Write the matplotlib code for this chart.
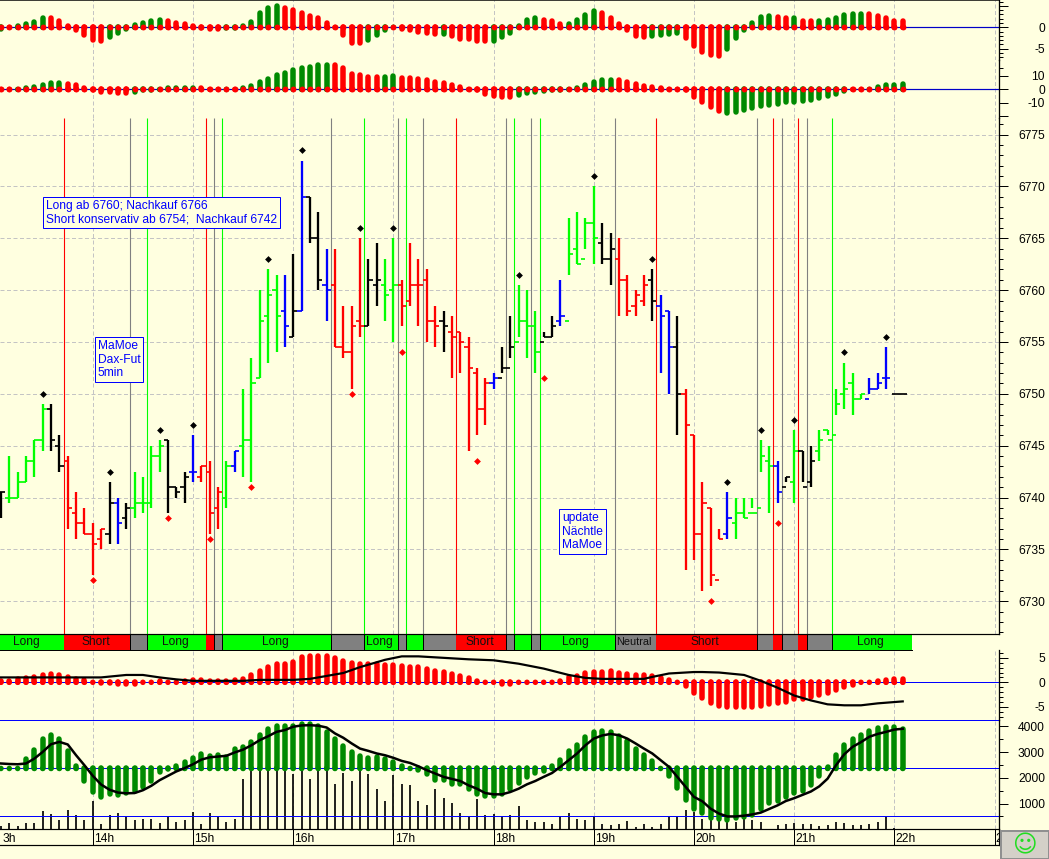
import matplotlib
matplotlib.use('Agg')
import matplotlib.pyplot as plt
from matplotlib.patches import Rectangle
import numpy as np

W, H = 1049, 859
plt.rc('font', family='Liberation Sans', size=8.64)

BG = '#FFFFE0'
RED, LIME, BLUE, GREY = '#FF0000', '#00FF00', '#0000FF', '#808080'
DARKGREEN = '#008A00'
COLORS = {'r': RED, 'g': LIME, 'b': BLUE, 'k': 'black'}


def px(n):
    return n * 0.72


# price bars, one per 5 minutes, first bar is number -11 (14h = bar 0)
opens = [6740.5, 6740, 6740, 6741.5, 6743.5, 6745.5, 6748.5, 6745, 6743.5, 6738.5, 6737.5, 6736.5,
         6736, 6736.5, 6739.5, 6738, 6739, 6739.5, 6739.5, 6744, 6745.5, 6741, 6741, 6742.5,
         6742, 6742.5, 6739, 6740, 6743, 6745, 6745.5, 6751.5, 6757.5, 6760, 6758, 6755.5,
         6758, 6769, 6765, 6760.5, 6760.5, 6754.5, 6754, 6757, 6756.5, 6760.5, 6760.5, 6760,
         6760.5, 6759, 6760.5, 6761, 6757, 6757, 6756, 6756, 6754.5, 6752, 6748.5, 6751,
         6751.5, 6752.5, 6755, 6757, 6756.5, 6755, 6755.5, 6757, 6757, 6764, 6763, 6766.5,
         6764.5, 6763, 6763, 6761, 6758.5, 6759, 6761, 6758.5, 6758, 6754.5, 6750, 6746,
         6736.5, 6739, 6732, 6736.5, 6737.5, 6738.5, 6738.5, 6739, 6743.5, 6743, 6741, 6741.5,
         6744.5, 6741.5, 6744.5, 6746.5, 6746, 6750, 6751, 6749.5, 6749.5, 6750.5, 6751.5]
highs = [6740.5, 6744, 6742.5, 6744, 6745.5, 6749, 6749, 6746, 6744, 6740.5, 6739, 6737.5,
         6737, 6741.5, 6740, 6739.5, 6742.5, 6742, 6745, 6745.5, 6745.5, 6741, 6742.5, 6746,
         6743, 6743.5, 6741, 6743.5, 6744.5, 6750.5, 6753.5, 6760, 6762, 6761.5, 6761.5, 6763.5,
         6772.5, 6769, 6767.5, 6764, 6764, 6758.5, 6758.5, 6765, 6763, 6764.5, 6763, 6765,
         6761, 6764.5, 6763, 6762, 6758.5, 6758, 6757.5, 6756, 6755.5, 6752.5, 6751.5, 6752,
         6754.5, 6757.5, 6760.5, 6760, 6758, 6756, 6757.5, 6761, 6767, 6767.5, 6767, 6770,
         6766.5, 6765.5, 6765, 6761.5, 6760, 6761.5, 6762, 6759.5, 6758, 6757.5, 6750.5, 6746,
         6741.5, 6739, 6737, 6740.5, 6740, 6740, 6740, 6745.5, 6745, 6743.5, 6742, 6746.5,
         6744.5, 6745, 6746.5, 6746.5, 6750.5, 6753, 6752, 6750, 6751.5, 6752, 6754.5]
lows = [6738, 6739.5, 6740, 6741.5, 6742, 6744.5, 6744.5, 6742.5, 6737, 6736, 6736.5, 6732.5,
        6735, 6735.5, 6735.5, 6737, 6738, 6738.5, 6739, 6742.5, 6738.5, 6740, 6739.5, 6741.5,
        6741.5, 6736.5, 6737, 6739, 6742.5, 6742, 6741.5, 6751.5, 6753, 6754, 6754.5, 6755.5,
        6758, 6764.5, 6760, 6757, 6754.5, 6753.5, 6750.5, 6755.5, 6756.5, 6758.5, 6757, 6755,
        6756.5, 6758.5, 6756.5, 6755, 6754.5, 6754, 6751.5, 6752, 6744.5, 6746, 6747, 6750.5,
        6752, 6753.5, 6755.5, 6753.5, 6752, 6755.5, 6755.5, 6756.5, 6761.5, 6762.5, 6764, 6762.5,
        6762.5, 6760.5, 6757.5, 6757.5, 6757.5, 6758.5, 6757, 6752, 6750, 6746, 6733, 6734,
        6731, 6731.5, 6736, 6736, 6736, 6738, 6739, 6742.5, 6738.5, 6739.5, 6741.5, 6739.5,
        6741.5, 6741, 6743.5, 6746, 6748, 6748.5, 6748, 6749.5, 6750, 6750.5, 6750.5]
closes = [6740.5, 6740, 6741.5, 6743.5, 6745.5, 6748.5, 6745.5, 6743, 6739, 6737.5, 6736.5, 6735.5,
          6737, 6739.5, 6737.5, 6739, 6739.5, 6739.5, 6744, 6745, 6741, 6740.5, 6742, 6742.5,
          6743, 6738.5, 6740.5, 6743, 6744.5, 6745.5, 6751, 6757, 6759.5, 6757.5, 6756.5, 6758,
          6769, 6765, 6761, 6760, 6754.5, 6754, 6756.5, 6756.5, 6761, 6761, 6759.5, 6760.5,
          6758.5, 6760.5, 6760.5, 6757, 6756.5, 6756.5, 6755.5, 6755, 6752.5, 6748.5, 6751, 6751.5,
          6752.5, 6754.5, 6757, 6756.5, 6754, 6755.5, 6756.5, 6757.5, 6763.5, 6762.5, 6766.5, 6765,
          6763, 6764, 6761, 6758, 6759.5, 6760.5, 6759, 6757.5, 6754.5, 6750, 6747, 6736.5,
          6739.5, 6732.5, 6736, 6738, 6738.5, 6738, 6738.5, 6744, 6743, 6740.5, 6742, 6744.5,
          6741, 6743.5, 6745.5, 6745.5, 6749, 6750.5, 6749.5, 6750, 6750.5, 6751, 6751.5]
bar_colors = ('k' 'ggggg' 'kk' 'rrrrr' 'kbk' 'gggg' 'kkk' 'b' 'rrr' 'g' 'b' 'ggggg' 'b' 'k' 'b' 'kk' 'b'
              'rrrr' 'kk' 'gg' 'rrrrr' 'k' 'rrrrr' 'b' 'kk' 'ggg' 'kk' 'b' 'gggg' 'kk' 'rrrr' 'k' 'bb'
              'k' 'rrrrr' 'b' 'ggggg' 'b' 'k' 'g' 'kk' 'gggggg' 'bbb')
last_price = 6750

top_marks_k = [-6, 2, 8, 12, 21, 25, 32, 36, 51, 60, 67, 76, 80, 84, 90, 95]
top_marks_p = [6750, 6742.5, 6746.5, 6747, 6763, 6773.5, 6766, 6766, 6761.5, 6771, 6763, 6741.5,
               6746.5, 6747.5, 6754, 6755.5]
low_marks_k = [0, 9, 14, 19, 31, 37, 46, 54, 74, 82]
low_marks_p = [6732, 6738, 6736, 6741, 6750, 6754, 6743.5, 6751.5, 6730, 6737.5]

# signal strip
strip_edges = [-12, -3.5, 4.5, 6.5, 13.5, 14.5, 15.5, 28.5, 32.5, 36.5, 37.5, 39.5, 43.5, 49.5, 50.5,
               52.5, 53.5, 62.5, 67.5, 79.5, 81.5, 82.5, 84.5, 85.5, 88.5, 98.1]
strip_state = 'lsnlsnlnlnlnsnlnlnsnsnsnl'
strip_text = {0: 'Long', 1: 'Short', 3: 'Long', 6: 'Long', 8: 'Long', 12: 'Short', 16: 'Long',
              17: 'Neutral', 18: 'Short', 24: 'Long'}

# oscillator panels, bars -11 .. 97
osc1 = [-1.0, 0.1, 0.9, 1.3, 1.9, 2.7, 2.7, 2.2, 1.0, -1.2, -2.4, -3.6, -3.8, -3.0, -2.0, -1.0, 1.2, 1.7,
        2.0, 2.3, 2.2, 1.7, 1.3, 1.0, -0.8, -1.0, -1.0, -0.8, -0.8, 0.9, 1.9, 4.1, 5.2, 5.7, 5.2, 4.7,
        4.1, 3.4, 2.7, 1.7, 0.8, -2.4, -4.2, -4.2, -3.6, -2.4, -1.2, 0.8, -1.0, -1.2, -1.7, -2.0, -2.2, -2.2,
        -2.7, -3.4, -3.4, -3.8, -3.8, -3.8, -3.0, -2.0, 1.0, 2.4, 2.9, 2.4, 2.0, 1.5, 1.5, 2.4, 3.6, 4.5,
        4.1, 2.9, 1.5, -1.2, -2.7, -3.0, -2.7, -2.4, -2.2, -2.0, -3.1, -5.0, -6.5, -7.2, -7.4, -5.8, -3.1, -1.2,
        1.7, 3.1, 3.3, 3.1, 2.7, 2.9, 2.2, 2.0, 2.0, 2.4, 2.7, 3.6, 3.8, 3.8, 3.8, 3.4, 2.9, 2.2, 2.0]
osc1_colors = ('grggggrrrrrrrggggggg' 'rrrrrrr' 'ggggggg' 'rrrrrrrrrr' 'gggg' 'rrrrr' 'g' 'rrrrr' 'gggggg'
               'rrr' 'gggg' 'rrrrrr' 'gggg' 'rrrrr' 'gggggg' 'rr' 'g' 'rr' 'gggggg' 'rrrrr')
osc2 = [0, 0, 2.5, 3, 4, 5.5, 6.5, 7, 6, 5.5, 3, -2.5, -4, -4, -5, -5, -4, -2.5,
        -2.5, 2.5, 3, 3, 3, 3, 3, 2, 2, 2.5, 2.5, 3, 4.7, 7.7, 10, 13, 14.5, 16.7,
        18, 19, 20, 20, 20, 18, 13.7, 13, 11.5, 11.5, 11.5, 12, 10.7, 10.7, 10, 9, 7.7, 7,
        5.5, 4, 1.5, -2.5, -5.5, -7, -7.7, -7.7, -6, -4.7, -4, -3, -2.5, -2.5, 1, 3, 5.5, 7.7,
        9, 9, 9, 7.7, 6, 4.7, 4, 3, 2.5, 1.7, -2.5, -7.7, -11.7, -15, -18, -19.7, -19, -17.5,
        -16, -14.5, -13.7, -13, -11.5, -11.5, -10.7, -10, -8.5, -7, -5.5, -3, -2, 0.5, 2.7, 4.2, 5, 5.5, 6]
osc2_colors = ('rr' 'gggggg' 'rrrrrrrr' 'gggggggg' 'rrr' 'g' 'r' 'ggggggggggg' 'rrrrrr' 'gg'
               'rrrrrrrrrrrrrr' 'gggggggggggg' 'rrrrrrrrrrrrr' 'ggggggggggggggg' 'rr' 'ggggg')
osc3 = [0.8, 0.9, 1.3, 1.5, 1.7, 2.1, 2.3, 2.1, 1.7, 1.3, 1.0, 0.5, -0.7, -0.7, -0.9, -1.0, -1.0, -0.4,
        0.7, 0.9, 0.7, 0.7, 0.8, 1.0, 1.0, 0.8, 0.8, 0.8, 1.0, 1.2, 2.0, 2.8, 3.7, 4.3, 4.4, 4.7,
        5.7, 6.0, 6.0, 5.9, 5.5, 4.9, 4.5, 4.3, 4.3, 4.3, 4.1, 4.1, 3.9, 3.7, 3.7, 3.3, 2.9, 2.7,
        2.3, 1.8, 1.5, 0.9, 0.4, -0.6, -0.9, -0.9, -0.4, 0.6, 0.5, 0.5, 0.6, 0.9, 1.7, 1.9, 2.5, 2.7,
        2.7, 2.8, 2.5, 2.2, 2.1, 2.1, 1.9, 1.4, 1.0, -0.5, -1.4, -2.7, -3.7, -4.7, -5.3, -5.7, -5.7, -5.7,
        -5.7, -5.3, -4.9, -4.7, -4.5, -3.9, -3.9, -3.5, -3.1, -2.7, -2.1, -1.5, -1.1, -0.6, -0.4, 0.9, 1.1, 1.3, 1.3]
osc3_line_k = [-11, 1, 4, 6, 8, 10, 12, 14, 18, 20, 24, 26, 28, 30, 31, 32, 33, 35, 37, 39, 42, 45, 48, 51,
               54, 57, 59, 61, 64, 66, 67, 69, 72, 73, 75, 78, 80, 82, 84, 86, 88, 90, 92, 94, 97]
osc3_line = [1.0, 1.0, 1.5, 1.5, 1.0, 0.6, 0.3, 0.3, 0.3, 0.5, 0.5, 0.7, 1.3, 1.9, 2.5, 3.1, 3.6, 4.6, 5.3,
             5.3, 5.0, 4.7, 4.5, 3.8, 2.8, 1.5, 0.9, 0.7, 0.7, 0.7, 1.1, 1.8, 2.1, 2.1, 2.0, 1.5, 0.3, -1.1,
             -2.7, -3.7, -4.5, -4.7, -4.7, -4.3, -3.9]

osc4 = [2260, 2270, 2270, 2840, 3180, 3620, 3770, 3620, 3140, 2560, 1780, 1340, 1150, 1260, 1230, 1320, 1390, 1520,
        1790, 2140, 2230, 2580, 2710, 2880, 3030, 2950, 3000, 2920, 3220, 3310, 3490, 3780, 4010, 4120, 4120, 4140,
        4210, 4210, 4120, 3910, 3620, 3340, 3100, 2950, 2880, 2920, 2840, 2710, 2580, 2450, 2190, 2040, 1800, 1800,
        1670, 1650, 1450, 1260, 1190, 1170, 1260, 1450, 1710, 1910, 2080, 2170, 2560, 2820, 3160, 3390, 3700, 3910,
        3940, 3900, 3730, 3530, 3230, 3000, 2750, 2470, 1970, 1490, 1020, 690, 530, 350, 300, 270, 350, 390,
        450, 690, 910, 1000, 1150, 1300, 1390, 1610, 1950, 2530, 3000, 3390, 3620, 3780, 3940, 4050, 4090, 4070, 4010]
osc4_line = [2560, 2540, 2530, 2560, 2750, 3010, 3310, 3400, 3300, 2880, 2490, 2080, 1740, 1540, 1430, 1400, 1410, 1520,
             1690, 1910, 2080, 2250, 2380, 2530, 2710, 2800, 2830, 2860, 2990, 3100, 3270, 3470, 3620, 3790, 3860, 3990,
             4040, 4050, 4030, 3960, 3730, 3560, 3340, 3140, 3050, 2950, 2880, 2780, 2660, 2580, 2450, 2300, 2170, 2040,
             1960, 1880, 1710, 1580, 1410, 1360, 1360, 1450, 1580, 1750, 1880, 2040, 2190, 2430, 2690, 2950, 3270, 3530,
             3650, 3710, 3660, 3530, 3340, 3140, 2950, 2690, 2430, 2040, 1650, 1260, 1090, 800, 610, 500, 500, 530,
             580, 650, 790, 930, 1100, 1210, 1340, 1470, 1670, 1970, 2490, 2920, 3210, 3390, 3600, 3710, 3790, 3880, 3910]
volume = [110, 260, 110, 260, 260, 700, 610, 350, 760, 570, 350, 1090, 220, 540, 650, 480, 350, 390,
          410, 260, 480, 280, 350, 660, 220, 650, 480, 270, 410, 1950, 2260, 2260, 2260, 2260, 2260, 2140,
          2260, 1950, 2260, 2260, 1780, 2190, 1870, 2260, 2140, 1580, 1090, 2100, 1750, 1710, 1090, 930, 1560, 1230,
          1040, 650, 480, 1170, 540, 580, 480, 540, 890, 350, 280, 280, 190, 480, 650, 410, 370, 480,
          220, 150, 190, 310, 90, 220, 90, 190, 480, 480, 740, 670, 410, 370, 310, 280, 280, 410,
          350, 270, 20, 150, 190, 240, 220, 190, 140, 150, 270, 240, 150, 150, 190, 280, 480, 60]

# the outer labels are cut by the chart edges, only this much of them shows
hour_labels = ['3h', '14h', '15h', '16h', '17h', '18h', '19h', '20h', '21h', '22h', '2']
hour_label_k = [-10.87, 0.15, 12.15, 24.15, 36.15, 48.15, 60.15, 72.15, 84.15, 96.15, 108.15]
hour_bars = [-12, 0, 12, 24, 36, 48, 60, 72, 84, 96, 108]
price_grid = [6730, 6735, 6740, 6745, 6750, 6755, 6760, 6765, 6770, 6775]

note_long = 'Long ab 6760; Nachkauf 6766\nShort konservativ ab 6754;  Nachkauf 6742'
note_name = 'MaMoe\nDax-Fut\n5min'
note_update = 'update\nNächtle\nMaMoe'

osc_k = np.arange(-11, 98)
price_k = np.arange(-11, 96)
volume_k = np.arange(-11, 97)
x_left, x_right = -92.8 / 8.35, (999 - 92.8) / 8.35


def add_panel(y0, y1, ylim):
    ax = fig.add_axes([0, 1 - y1 / H, 999 / W, (y1 - y0) / H])
    ax.set_xlim(x_left, x_right)
    ax.set_ylim(*ylim)
    ax.patch.set_alpha(0)
    for s in ax.spines.values():
        s.set_visible(False)
    ax.spines['right'].set_visible(True)
    ax.spines['right'].set_linewidth(px(1.3))
    ax.set_xticks([])
    ax.yaxis.tick_right()
    ax.vlines(hour_bars, *ylim, color='#C4C4C4', lw=px(1), linestyles=(0, (4, 2.5)), zorder=0)
    return ax


def right_ticks(ax, major, minor, labels):
    ax.set_yticks(major)
    ax.set_yticks(minor, minor=True)
    ax.set_yticklabels([])
    ax.tick_params(which='major', length=px(9), width=px(1), color='black')
    ax.tick_params(which='minor', length=px(3.5), width=px(1), color='black')
    for v in labels:
        ax.annotate(str(v), xy=(1, v), xycoords=ax.get_yaxis_transform(), xytext=(46, -1.5),
                    textcoords='offset pixels', ha='right', va='center', color='black',
                    annotation_clip=False)


def round_bars(ax, x, vals, base, colors, width=5.5):
    # round caps stick out half the width, pull the ends back so the tips land on the value
    y0, y1 = ax.get_ylim()
    per_px = (y1 - y0) / (ax.get_position().height * H)
    vals = np.asarray(vals, dtype=float) - base
    cut = (width / 2) * per_px
    tips = base + np.sign(vals) * np.maximum(np.abs(vals) - cut, 0)
    lc = ax.vlines(x, base, tips, colors=colors, lw=px(width), zorder=3)
    lc.set_capstyle('round')
    # very short segments vanish when snapped, a dot at the root keeps them
    ax.scatter(x, np.full(len(x), base), s=px(width) ** 2, c=colors, lw=0, zorder=3)


fig = plt.figure(figsize=(W / 100, H / 100), dpi=100, facecolor=BG)

# top oscillators
ax1 = add_panel(0, 60, (-7.64, 6.38))
ax1.spines['top'].set_visible(True)
ax1.spines['top'].set_linewidth(px(1.5))
ax1.axhline(0, color='#0000C8', lw=px(1.2), zorder=2)
round_bars(ax1, osc_k, osc1, 0, [RED if c == 'r' else DARKGREEN for c in osc1_colors])
ax1.scatter(osc_k, np.zeros(len(osc_k)), s=18, c=RED, lw=0, zorder=4)
right_ticks(ax1, [-5, 0, 5], [v for v in range(-7, 7) if v % 5], [0, -5])

ax2 = add_panel(60, 118, (-21.3, 21.9))
ax2.axhline(0, color='#0000C8', lw=px(1.2), zorder=2)
round_bars(ax2, osc_k, osc2, 0, [RED if c == 'r' else DARKGREEN for c in osc2_colors])
ax2.scatter(osc_k, np.zeros(len(osc_k)), s=18, c=RED, lw=0, zorder=4)
right_ticks(ax2, [-20, -10, 0, 10], [16], [10, 0, -10])

# price panel
ax = add_panel(118, 634.3, (6726.81, 6776.6))
ax.hlines(price_grid, x_left, x_right, color='#C4C4C4', lw=px(1), linestyles=(0, (4, 2.5)), zorder=0)
signal_x = strip_edges[1:-1]
signal_c = [{'l': LIME, 's': RED, 'n': GREY}[s] for s in strip_state[1:]]
ax.vlines(signal_x, 6726.81, 6776.6, colors=signal_c, lw=px(1.1), zorder=1)

cols = [COLORS[c] for c in bar_colors]
ax.vlines(price_k, lows, highs, colors=cols, lw=px(2.3), zorder=3)
ax.hlines(opens, price_k - 0.5, price_k, colors=cols, lw=px(1.7), zorder=3)
ax.hlines(closes, price_k, price_k + 0.5, colors=cols, lw=px(1.7), zorder=3)
ax.hlines(last_price, 95.75, 97.5, color='black', lw=px(1.7), zorder=3)
ax.scatter(top_marks_k, top_marks_p, marker='D', s=12, c='black', lw=0, zorder=4)
ax.scatter(low_marks_k, low_marks_p, marker='D', s=12, c=RED, lw=0, zorder=4)
right_ticks(ax, price_grid, [v for v in range(6727, 6777) if v % 5], price_grid)

box = dict(boxstyle='square,pad=0.22', fc=BG, ec=BLUE, lw=px(1))
ax.text(-5.63, 6767.5, note_long, color=BLUE, va='center', ha='left', bbox=box, linespacing=1.18, zorder=6)
ax.text(0.6, 6753.3, note_name, color=BLUE, va='center', ha='left', bbox=box, linespacing=1.18, zorder=6)
ax.text(56.2, 6736.7, note_update, color=BLUE, va='center', ha='left', bbox=box, linespacing=1.18, zorder=6)

# Long / Short strip
ax_s = fig.add_axes([0, 1 - 649.5 / H, 999 / W, 15.2 / H])
ax_s.set_xlim(x_left, x_right)
ax_s.set_ylim(0, 1)
ax_s.axis('off')
for i, st in enumerate(strip_state):
    a, b = strip_edges[i], strip_edges[i + 1]
    ax_s.add_patch(Rectangle((a, 0), b - a, 1, fc={'l': LIME, 's': RED, 'n': GREY}[st], lw=0, zorder=1))
    if st != 's' and i > 0:
        ax_s.plot([a, a], [0, 1], color='black', lw=px(1), zorder=2)
    if i in strip_text:
        size = 7.8 if strip_text[i] == 'Neutral' else 8.64
        ax_s.text((a + b) / 2 - 0.17, 0.47, strip_text[i], ha='center', va='center', color='#101010',
                  fontsize=size, zorder=3)
ax_s.plot([x_left, x_right], [1, 1], color='black', lw=px(1.2), clip_on=False, zorder=3)
ax_s.plot([x_left, 98.1], [0, 0], color='black', lw=px(1), clip_on=False, zorder=3)

# lower oscillator with slow line
ax3 = add_panel(650, 720, (-7.7, 6.6))
ax3.axhline(0, color=BLUE, lw=px(1), zorder=2)
round_bars(ax3, osc_k, osc3, 0, [RED] * len(osc_k))
ax3.plot(osc3_line_k, osc3_line, color='black', lw=px(2.2), zorder=5)
right_ticks(ax3, [-5, 0, 5], [v for v in range(-7, 7) if v % 5], [5, 0, -5])

# volume panel
ax4 = add_panel(720.3, 829.3, (0, 4240))
ax4.vlines(volume_k, 0, volume, color='black', lw=px(1.7), zorder=1)
ax4.axhline(2366, color=BLUE, lw=px(1), zorder=2)
ax4.axhline(4235, color=BLUE, lw=px(1), zorder=2, clip_on=False)
ax4.axhline(498, color=BLUE, lw=px(1), zorder=2)
round_bars(ax4, osc_k, osc4, 2366, [DARKGREEN] * len(osc_k))
ax4.plot(osc_k, osc4_line, color='black', lw=px(2.5), zorder=5)
right_ticks(ax4, [1000, 2000, 3000, 4000], [500, 1500, 2500, 3500], [4000, 3000, 2000, 1000])

# hour axis
ax_x = fig.add_axes([0, 1 - 845.3 / H, 999 / W, 16 / H])
ax_x.set_xlim(x_left, x_right)
ax_x.set_ylim(0, 1)
ax_x.patch.set_alpha(0)
ax_x.set_xticks([])
ax_x.set_yticks([])
ax_x.spines['left'].set_visible(False)
for s in ('top', 'bottom', 'right'):
    ax_x.spines[s].set_linewidth(px(1.2))
ax_x.vlines(hour_bars, 0, 1, color='black', lw=px(1))
for b, lab in zip(hour_label_k, hour_labels):
    ax_x.text(b, 0.42, lab, ha='left', va='center', clip_on=True, color='black')

# status button
ax_b = fig.add_axes([1001 / W, 0, 48 / W, 28 / H])
ax_b.set_xlim(0, 1)
ax_b.set_ylim(0, 1)
ax_b.set_xticks([])
ax_b.set_yticks([])
ax_b.set_facecolor('#D4D0C8')
for s in ax_b.spines.values():
    s.set_color('#909090')
    s.set_linewidth(px(2))
ax_b.text(0.49, 0.48, '\u263A', family='DejaVu Sans', fontsize=17, color='#22DD22', ha='center', va='center')

fig.savefig('out.png', dpi=100, facecolor=BG)
